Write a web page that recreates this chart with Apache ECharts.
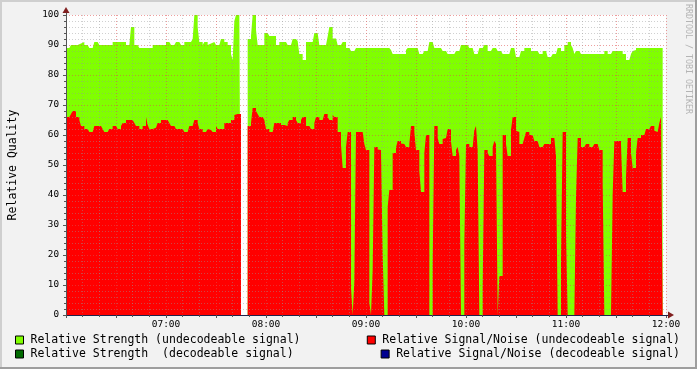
<!DOCTYPE html>
<html>
<head>
<meta charset="utf-8">
<script src="https://cdn.jsdelivr.net/npm/echarts@6/dist/echarts.min.js"></script>
<style>
html,body{margin:0;padding:0;background:#f2f2f2;}
#c{width:697px;height:369px;}
</style>
</head>
<body>
<div id="c"></div>
<script>
// ---- data (one value per minute, starting 06:00) ----
const startLabel = '06:00';
const stepMinutes = 1;
const tickMinutes = [60, 120, 180, 240, 300, 360];
const tickLabels = ['07:00', '08:00', '09:00', '10:00', '11:00', '12:00'];
const yTicks = [0, 10, 20, 30, 40, 50, 60, 70, 80, 90, 100];

const seriesNames = [
  'Relative Strength (undecodeable signal)',
  'Relative Strength  (decodeable signal)',
  'Relative Signal/Noise (undecodeable signal)',
  'Relative Signal/Noise (decodeable signal)'
];

// Relative Strength (undecodeable signal)
const strengthUndecodeable = [
  89,89,89,90,90,90,90,90,90.5,91,91,90,90,90,89,89,89,91,91,90.5,
  90,90,90,90,90,90,90,90,91,91,91,91,91,91,91,91,90,90,90,96,
  96,90,90,90,89,89,89,89,89,89,89,89,90,90,90,90,90,90,90,90,
  91,91,91,90,90,90,91,91,91,90,90,91,91,91,91,91,92,100,100,96,
  91,91,90,91,91,90,90.5,90.5,91,91,90,90,90,92,92,91,91,90,90,87,
  85,98,100,100,100,null,null,null,null,92,92,93,100,100,95,90,90,90,90,94,
  94,94,93,93,93,93,90,90,91,91,91,91,91,90,90,90,92,92,92,91.3,
  87,87,85,85,91,91,91,91,91,94,94,94,90,90,90,90,90,92.8,96,96,
  92.2,92.2,91.7,90,90,90.6,91,91,89,89,89,88,88,88,89,89,89,89,89,89,
  89,89,89,89,89,89,89,89,89,89,89,89,89,89,89,88.3,87,87,87,87,
  87,87,87,87,88.3,89,89,89,89,89,89,89,87,87,87,88,88,88,91,91,
  90.5,89,89,89,89,89,88,88,88,87,87,87,87,87,88,88,88,90,90,90,
  90,90,89,89,89,87,87,87,89,89,89,90,90,88,88,88,89,89,89,88,
  88,88,87,87,87,87,87,89,89,89,86,86,86,88,88,89,89,89,89,88,
  88,88,88,88,87,87,88,88,88,86,86,86,87,87,87,89,89,88,88,90,
  90,91,91,90,89,87,88,88,88,87,87,87,87,87,87,87,87,87,87,87,
  87,87,87,88,88,87,87,87,88,88,88,88,88,88,87,87,85,85,85,87,
  88,88.3,89,89,89,89,89,89,89,89,89,89,89,89,89,89,89,89
];

// Relative Strength (decodeable signal) - no visible values
const strengthDecodeable = [];

// Relative Signal/Noise (undecodeable signal)
const snrUndecodeable = [
  66,66,66,67,68,68,66,66,65,63,63,62,62,62,61,61,61.4,63,63,63,
  63,63,62,61,61,61.6,62,62,63,63,62.4,62,62,63,64,64,65,65,65,65,
  65,64,63,63,62,62,63,63,66,63.3,62,62,62,62.4,63,64,64,65,65,65,
  65,65,64,63,63,63,62,62,62,62,62,61,61,61,63,63,63,65,65,64,
  62,62,61,61,61,62,61.7,61.7,61,61,63,62,62,62,62,64,64,64,64,65,
  65,66.7,67,67,67,null,null,null,null,63,63,64,69,69,68,67,66,66,66,65,
  62,62,61,61,61,64,64,64,64,63.3,63.3,63,63,64,65,65,66,66,65,64,
  64,65,66,66,63,63,62.6,62,62,64,66,66,65,65,65.3,67,67,66,65,65,
  66.7,66,66,61,61,56.7,49,49,56,61,61,9,0,11,61,61,61,61,61,57,
  55,55,4,0,15,56,56,55.2,55,55,20,0,0,36,41.7,41.7,54,54,55.8,58,
  58,57.2,57,57,56,56,57,63,63,61,55,55,48,41,41,54,60,60,0,0,
  16.7,63,63,59,57,57,58.7,59,59,62,62,57.8,53,53,55,56,53,0,0,24,
  57,57,56,56,56,61.7,63,55,0,0,9,55,55,54,53,53,56,58,57,0,
  13,13,60,60,57,53,53,61.7,66,66,61.4,61,57,57,57,59,61,61,60,60,
  60,58,58,58,56,56,56,57,57,57,57,59,59,59,53,0,0,18,61,61,
  27,0,0,0,0,0,39,59,59,56,56,56,57,57,56,56,56,57,57,57,
  55,55,44,0,0,0,0,0,40,58,58,58,58,56.7,41,41,46,59,59,54,
  49,49,54,59,59,60,60,60,62,62,62,63,63,61.4,61,61,64,66
];

// Relative Signal/Noise (decodeable signal) - no visible values
const snrDecodeable = [];

// ---- chart ----
const FONT = '"DejaVu Sans Mono", "Liberation Mono", monospace';
const seriesColors = ['#80ff00', '#006a00', '#ff0000', '#000090'];

function toSteps(arr) {
  if (!arr.length) return [];
  const d = arr.map((v, i) => [i * stepMinutes, v]);
  d.push([arr.length * stepMinutes, arr[arr.length - 1]]);
  return d;
}

const chart = echarts.init(document.getElementById('c'), null, {renderer: 'canvas'});

function mkSeries(name, data, color) {
  return {
    name: name,
    type: 'line',
    step: 'end',
    data: toSteps(data),
    showSymbol: false,
    symbol: 'none',
    connectNulls: false,
    color: color,
    itemStyle: {color: color},
    lineStyle: {width: 0, color: color},
    areaStyle: {color: color, opacity: 1},
    emphasis: {disabled: true},
    silent: true
  };
}

function mkLegend(name, pos) {
  return Object.assign({
    data: [name],
    orient: 'horizontal',
    padding: 0,
    itemWidth: 8,
    itemHeight: 8,
    itemGap: 0,
    icon: 'rect',
    selectedMode: false,
    itemStyle: {borderColor: '#000', borderWidth: 1},
    textStyle: {fontFamily: FONT, fontSize: 11.5, color: '#000', padding: [0, 0, 0, 2]}
  }, pos);
}

const minorGrid = {color: 'rgba(150,150,150,0.45)', width: 1, type: [1, 2]};
const majorGrid = {color: 'rgba(222,79,79,0.55)', width: 1, type: [1, 2]};

const option = {
  animation: false,
  backgroundColor: '#f2f2f2',
  textStyle: {fontFamily: FONT},
  grid: {left: 66, top: 15, width: 600, height: 300, show: true, backgroundColor: '#ffffff', borderWidth: 0,
         containLabel: false, outerBoundsMode: 'none'},
  legend: [
    mkLegend(seriesNames[0], {left: 15, top: 334}),
    mkLegend(seriesNames[1], {left: 15, top: 348}),
    mkLegend(seriesNames[2], {right: 17, top: 334}),
    mkLegend(seriesNames[3], {right: 17, top: 348})
  ],
  xAxis: {
    type: 'value', min: 0, max: 360, interval: 30, z: 5,
    axisLine: {show: true, onZero: false, lineStyle: {color: '#22224a', width: 1}},
    axisTick: {show: true, length: 3, lineStyle: {color: '#555'}},
    minorTick: {show: true, splitNumber: 3, length: 2, lineStyle: {color: '#555'}},
    axisLabel: {
      fontFamily: FONT, fontSize: 9.5, color: '#000', margin: 5,
      formatter: function (v) { const i = tickMinutes.indexOf(v); return i >= 0 ? tickLabels[i] : ''; }
    },
    splitLine: {show: true, lineStyle: majorGrid},
    minorSplitLine: {show: true, lineStyle: minorGrid}
  },
  yAxis: {
    type: 'value', min: yTicks[0], max: yTicks[yTicks.length - 1], interval: 10, z: 5,
    name: 'Relative Quality', nameLocation: 'middle', nameGap: 47,
    nameTextStyle: {fontFamily: FONT, fontSize: 11.5, color: '#000'},
    axisLine: {show: true, onZero: false, lineStyle: {color: '#555', width: 1}},
    axisTick: {show: true, length: 3, lineStyle: {color: '#555'}},
    minorTick: {show: true, splitNumber: 5, length: 2, lineStyle: {color: '#555'}},
    axisLabel: {fontFamily: FONT, fontSize: 9.3, color: '#000', margin: 7},
    splitLine: {show: true, lineStyle: majorGrid},
    minorSplitLine: {show: true, lineStyle: minorGrid}
  },
  series: [
    mkSeries(seriesNames[0], strengthUndecodeable, seriesColors[0]),
    mkSeries(seriesNames[1], strengthDecodeable, seriesColors[1]),
    mkSeries(seriesNames[2], snrUndecodeable, seriesColors[2]),
    mkSeries(seriesNames[3], snrDecodeable, seriesColors[3])
  ]
};
chart.setOption(option);

// decorations: axis arrows, frame, watermark
const topPt = chart.convertToPixel({gridIndex: 0}, [0, 100]);
const endPt = chart.convertToPixel({gridIndex: 0}, [360, 0]);
const W = chart.getWidth(), H = chart.getHeight();
const ARROW = '#801f1f';
chart.setOption({
  graphic: [
    {type: 'rect', shape: {x: 0, y: 0, width: W, height: 2}, style: {fill: '#cfcfcf'}, silent: true, z: 100},
    {type: 'rect', shape: {x: 0, y: 0, width: 2, height: H}, style: {fill: '#cfcfcf'}, silent: true, z: 100},
    {type: 'rect', shape: {x: 0, y: H - 2, width: W, height: 2}, style: {fill: '#9e9e9e'}, silent: true, z: 101},
    {type: 'rect', shape: {x: W - 2, y: 0, width: 2, height: H}, style: {fill: '#9e9e9e'}, silent: true, z: 101},
    {type: 'line', shape: {x1: Math.round(topPt[0]) + 0.5, y1: topPt[1], x2: Math.round(topPt[0]) + 0.5, y2: topPt[1] - 3}, style: {stroke: '#555', lineWidth: 1}, silent: true, z: 100},
    {type: 'polygon', shape: {points: [[topPt[0] - 3.5, topPt[1] - 2], [topPt[0] + 3.5, topPt[1] - 2], [topPt[0], topPt[1] - 8]]}, style: {fill: ARROW}, silent: true, z: 100},
    {type: 'line', shape: {x1: endPt[0], y1: Math.round(endPt[1]) + 0.5, x2: endPt[0] + 3, y2: Math.round(endPt[1]) + 0.5}, style: {stroke: '#22224a', lineWidth: 1}, silent: true, z: 100},
    {type: 'polygon', shape: {points: [[endPt[0] + 2, endPt[1] - 3.5], [endPt[0] + 2, endPt[1] + 3.5], [endPt[0] + 8, endPt[1]]]}, style: {fill: ARROW}, silent: true, z: 100},
    {type: 'text', x: 688, y: 4, rotation: -Math.PI / 2, silent: true, z: 100,
     style: {text: 'RRDTOOL / TOBI OETIKER', fill: '#b4b4b4', font: '8.3px ' + FONT, textAlign: 'left', textVerticalAlign: 'middle'}}
  ]
});
</script>
</body>
</html>
